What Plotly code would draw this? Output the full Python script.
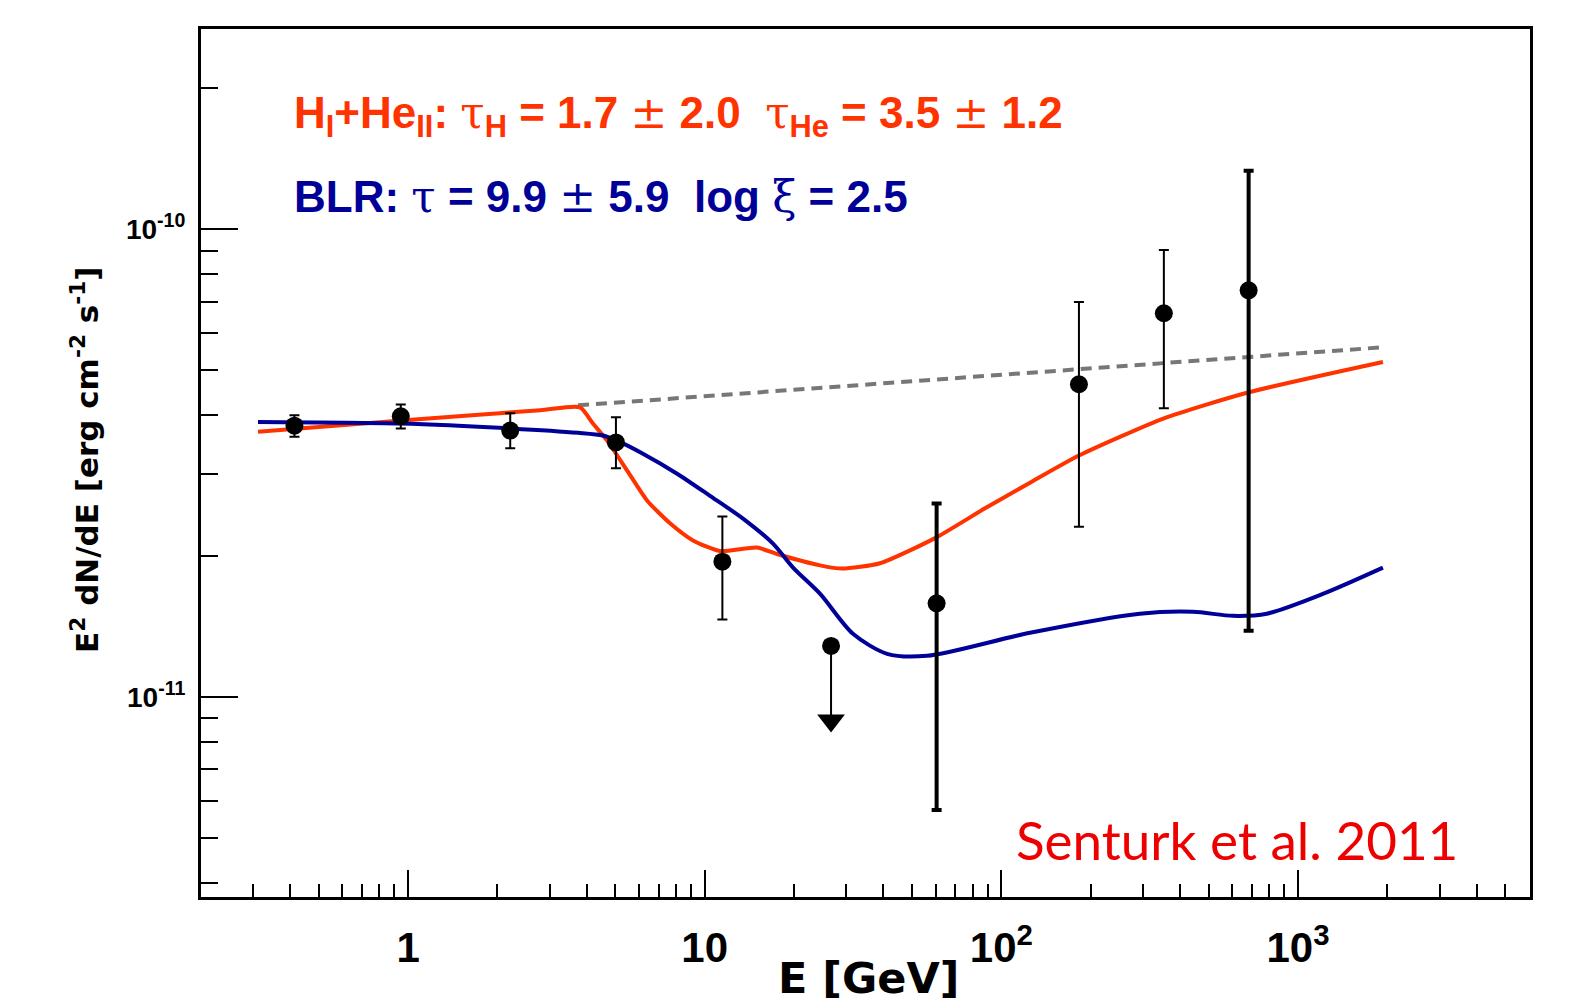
import plotly.graph_objects as go

# ---- data ----
data_E = [0.414, 0.945, 2.21, 5.02, 11.47, 60.5, 182.6, 353.0, 681.6]
data_F = [3.80e-11, 3.98e-11, 3.71e-11, 3.50e-11, 1.945e-11, 1.585e-11, 4.66e-11, 6.61e-11, 7.40e-11]
data_F_hi = [4.00e-11, 4.22e-11, 4.04e-11, 3.96e-11, 2.43e-11, 2.59e-11, 6.99e-11, 9.02e-11, 1.333e-10]
data_F_lo = [3.60e-11, 3.75e-11, 3.40e-11, 3.08e-11, 1.464e-11, 5.73e-12, 2.31e-11, 4.14e-11, 1.384e-11]
thick_bar = [False, False, False, False, False, True, False, False, True]

ul_E = [26.66]
ul_F = [1.285e-11]
ul_arrow_end = [8.9e-12]

red_E = [0.312, 1.0, 2.79, 3.80, 4.20, 4.69, 5.47, 6.39, 7.64, 9.13, 11.26, 15.01, 17.52, 24.47,
         29.03, 38.98, 60.2, 88.1, 124.9, 182.6, 353.2, 683.2, 1933]
red_F = [3.69e-11, 3.91e-11, 4.10e-11, 4.16e-11, 3.84e-11, 3.53e-11, 3.05e-11, 2.63e-11, 2.35e-11,
         2.16e-11, 2.05e-11, 2.085e-11, 2.02e-11, 1.91e-11, 1.88e-11, 1.93e-11, 2.19e-11,
         2.53e-11, 2.87e-11, 3.28e-11, 3.94e-11, 4.48e-11, 5.20e-11]

blue_E = [0.312, 0.94, 2.21, 3.74, 4.54, 5.06, 6.19, 8.07, 10.42, 13.46, 16.99, 19.85, 24.5,
          31.6, 41.2, 56.2, 124.9, 293, 442, 603, 785, 1213, 1933]
blue_F = [3.87e-11, 3.84e-11, 3.75e-11, 3.67e-11, 3.62e-11, 3.53e-11, 3.31e-11, 3.00e-11,
          2.69e-11, 2.405e-11, 2.126e-11, 1.889e-11, 1.66e-11, 1.364e-11, 1.236e-11, 1.224e-11,
          1.371e-11, 1.506e-11, 1.52e-11, 1.49e-11, 1.506e-11, 1.66e-11, 1.889e-11]

intr_E = [3.74, 1933]
intr_F = [4.20e-11, 5.59e-11]

x_tickvals = [1, 10, 100, 1000]
x_ticktext = ["1", "10", "10<sup>2</sup>", "10<sup>3</sup>"]
y_tickvals = [1e-11, 1e-10]
y_ticktext = ["10<sup>-11</sup>", "10<sup>-10</sup>"]

RED = "#ff3300"
BLUE = "#000099"
FONT = "Liberation Sans, Arial, sans-serif"
WIDE = "DejaVu Sans, sans-serif"

fig = go.Figure()

fig.add_trace(go.Scatter(x=intr_E, y=intr_F, mode="lines",
                         line=dict(color="#777777", width=4, dash="11px,7px")))
fig.add_trace(go.Scatter(x=red_E, y=red_F, mode="lines",
                         line=dict(color=RED, width=4, shape="spline", smoothing=0.6)))
fig.add_trace(go.Scatter(x=blue_E, y=blue_F, mode="lines",
                         line=dict(color=BLUE, width=4, shape="spline", smoothing=0.8)))

for thick in (False, True):
    idx = [i for i in range(len(data_E)) if thick_bar[i] == thick]
    xs = [data_E[i] for i in idx]
    ys = [data_F[i] for i in idx]
    up = [data_F_hi[i] - data_F[i] for i in idx]
    dn = [data_F[i] - data_F_lo[i] for i in idx]
    fig.add_trace(go.Scatter(
        x=xs, y=ys, mode="markers",
        marker=dict(color="black", size=18, symbol="circle"),
        error_y=dict(type="data", symmetric=False, array=up, arrayminus=dn,
                     color="black", thickness=4 if thick else 2, width=5)))

# upper limit
for e, f, fa in zip(ul_E, ul_F, ul_arrow_end):
    fig.add_trace(go.Scatter(x=[e, e], y=[f, fa], mode="lines",
                             line=dict(color="black", width=2)))
    fig.add_trace(go.Scatter(x=[e], y=[fa], mode="markers",
                             marker=dict(color="black", size=24, symbol="triangle-down")))
    fig.add_trace(go.Scatter(x=[e], y=[f], mode="markers",
                             marker=dict(color="black", size=18, symbol="circle")))

x_minor = [m * 10 ** d for d in range(-1, 4) for m in range(2, 10)
           if 0.2 < m * 10 ** d < 6000]
y_minor = [m * 10 ** d for d in (-12, -11, -10) for m in range(2, 10)
           if 3.7e-12 < m * 10 ** d < 2.7e-10]

fig.update_xaxes(type="log", range=[-0.698, 3.782],
                 tickmode="array", tickvals=x_tickvals, ticktext=x_ticktext,
                 ticks="inside", ticklen=27, tickwidth=2, tickcolor="black",
                 minor=dict(tickmode="array", tickvals=x_minor, ticks="inside",
                            ticklen=13, tickwidth=2, tickcolor="black", showgrid=False),
                 showline=True, linewidth=3, linecolor="black", mirror=True,
                 showgrid=False, zeroline=False,
                 tickfont=dict(family=FONT, size=42, color="black", weight="bold"),
                 ticklabelstandoff=12)
fig.update_yaxes(type="log", range=[-11.428, -9.572],
                 tickmode="array", tickvals=y_tickvals, ticktext=y_ticktext,
                 ticks="inside", ticklen=37, tickwidth=2, tickcolor="black",
                 minor=dict(tickmode="array", tickvals=y_minor, ticks="inside",
                            ticklen=17, tickwidth=2, tickcolor="black", showgrid=False),
                 showline=True, linewidth=3, linecolor="black", mirror=True,
                 showgrid=False, zeroline=False,
                 tickfont=dict(family=FONT, size=28, color="black", weight="bold"),
                 ticklabelstandoff=7)

SYM = "font-family:'DejaVu Serif';font-weight:normal"


def sym(c):
    return f"<span style=\"{SYM}\">{c}</span>"


red_text = ("<b>H<sub>I</sub>+He<sub>II</sub>:</b> " + sym("τ") + "<sub><b>H</b></sub>"
            + "<b> = 1.7 </b>" + sym("±") + "<b> 2.0  </b>" + sym("τ") + "<sub><b>He</b></sub>"
            + "<b> = 3.5 </b>" + sym("±") + "<b> 1.2</b>")
blue_text = ("<b>BLR:</b> " + sym("τ") + "<b> = 9.9 </b>" + sym("±") + "<b> 5.9  log </b>"
             + sym("ξ") + "<b> = 2.5</b>")

annos = [
    dict(text=red_text, x=0.0685, y=0.900, xanchor="left", yanchor="middle",
         font=dict(family=FONT, size=44, color=RED)),
    dict(text=blue_text, x=0.0685, y=0.807, xanchor="left", yanchor="middle",
         font=dict(family=FONT, size=44, color=BLUE)),
    dict(text="Senturk et al. 2011", x=0.6115, y=0.066, xanchor="left", yanchor="middle",
         font=dict(family="Lato, sans-serif", size=53, color="#ee0000")),
    dict(text="<b>E [GeV]</b>", x=0.5026, y=-0.093, xanchor="center", yanchor="middle",
         font=dict(family=WIDE, size=43, color="black")),
    dict(text="<b>E<sup>2</sup> dN/dE [erg cm<sup>-2</sup> s<sup>-1</sup>]</b>",
         x=-0.0873, y=0.5035, xanchor="center", yanchor="middle", textangle=-90,
         font=dict(family=WIDE, size=31, color="black")),
]
for a in annos:
    a.update(xref="paper", yref="paper", showarrow=False)

# page body has an 8px margin, so the margins are offset to keep the frame in place
fig.update_layout(width=1569, height=1000, showlegend=False,
                  margin=dict(l=193, r=47, t=21, b=111),
                  paper_bgcolor="white", plot_bgcolor="white",
                  annotations=annos)

fig.write_html("out.html")
